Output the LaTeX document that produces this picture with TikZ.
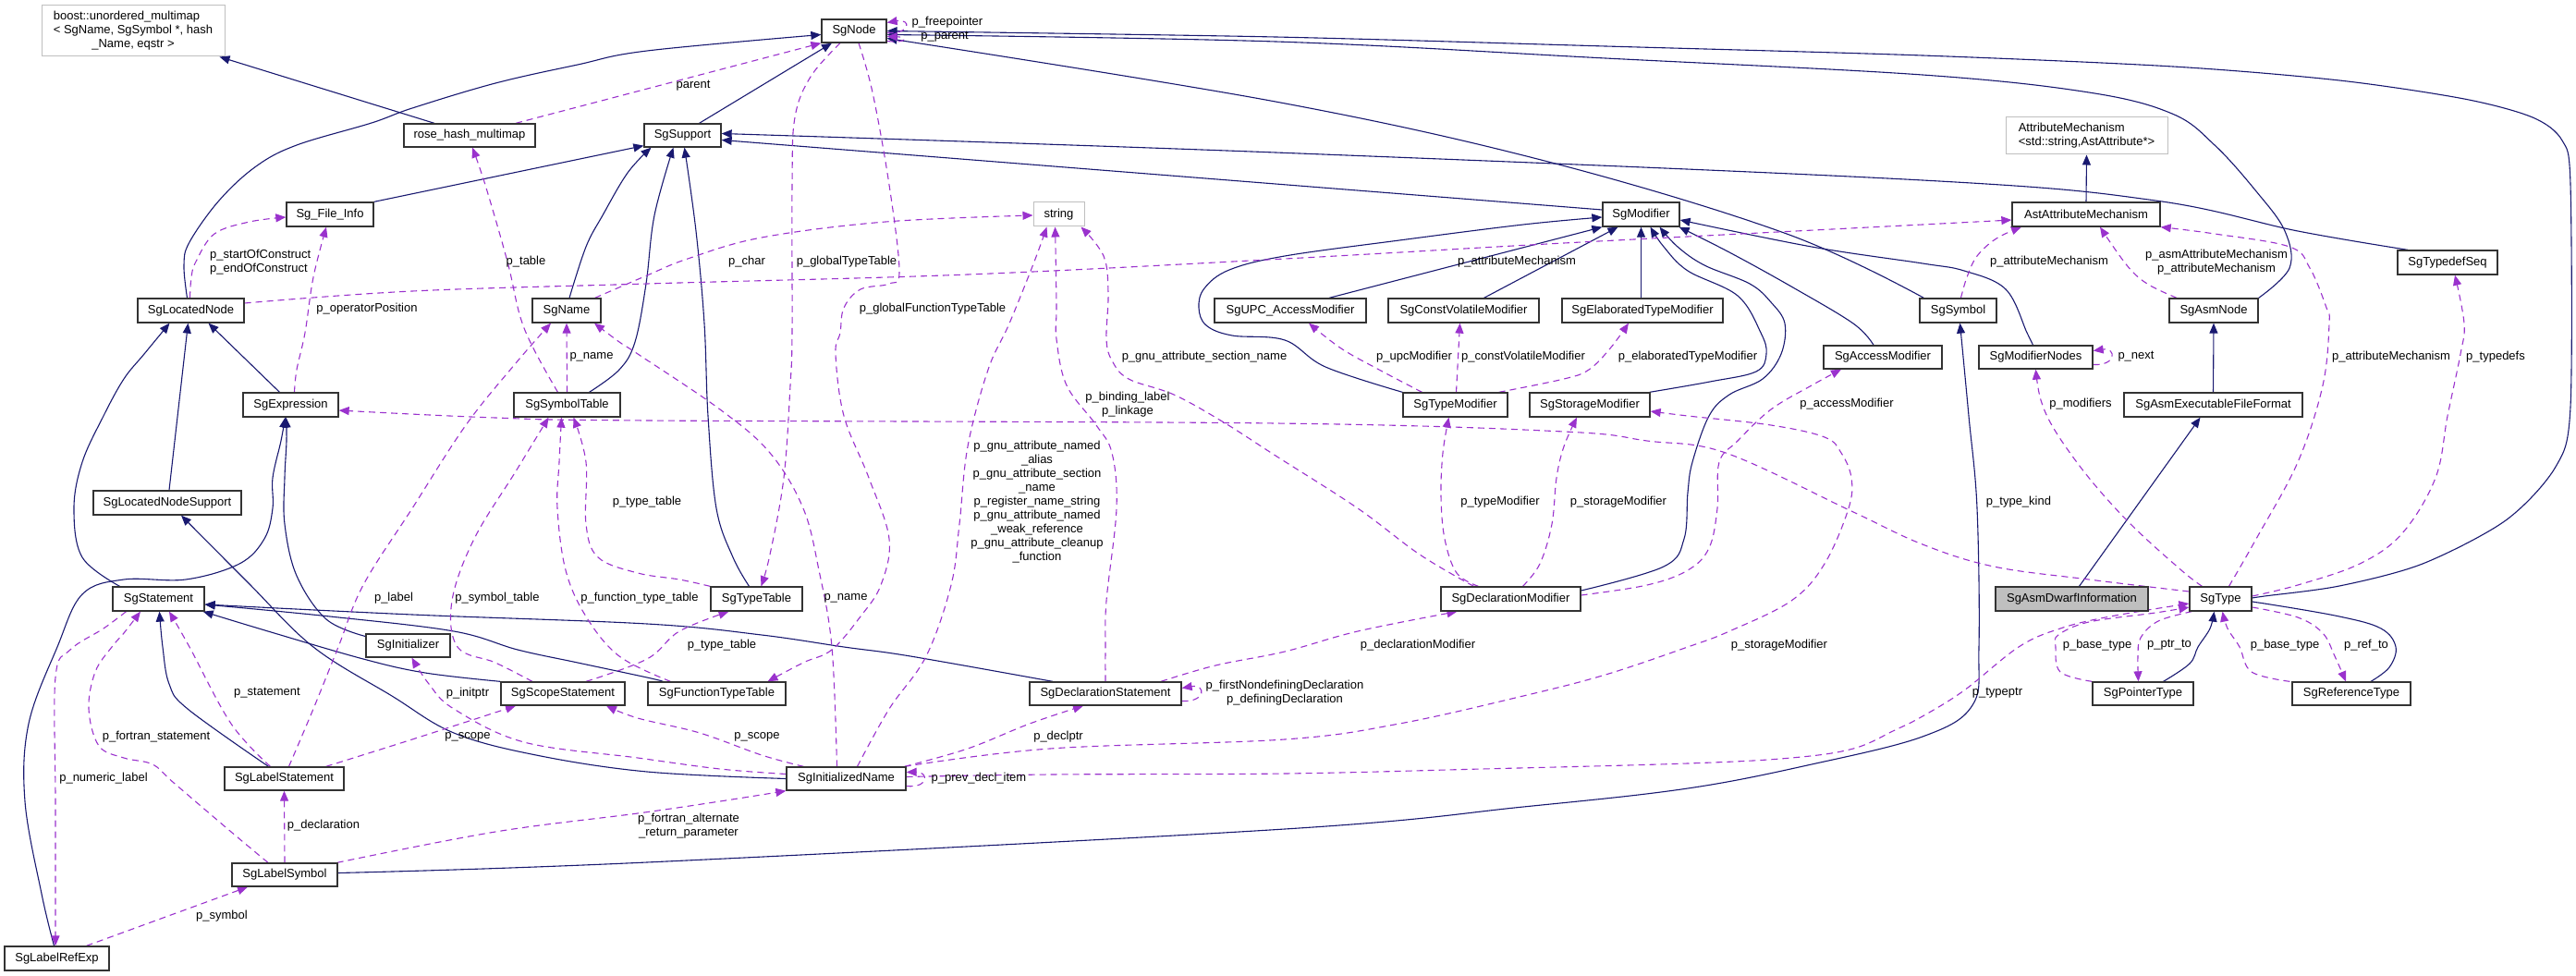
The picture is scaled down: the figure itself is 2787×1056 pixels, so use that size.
\documentclass[tikz,border=0pt]{standalone}
\usepackage{fontspec}
\setmainfont{Liberation Sans}
\usetikzlibrary{arrows.meta}
\definecolor{inhc}{RGB}{25,25,112}
\definecolor{depc}{RGB}{154,50,205}
\definecolor{gbord}{RGB}{191,191,191}
\pgfdeclarelayer{edges}
\pgfsetlayers{edges,main}
\begin{document}
\begin{tikzpicture}[x=1pt,y=-1pt,
  every node/.style={font=\fontsize{13}{15}\selectfont},
  box/.style={draw=black!80, line width=1.3pt, fill=white, inner sep=0pt, minimum height=25pt},
  gbox/.style={box, draw=gbord, line width=1pt},
  inh/.style={draw=inhc, line width=1.1pt, -{Triangle[length=11pt,width=9pt]}},
  dep/.style={draw=depc, line width=1.1pt, dash pattern=on 7pt off 5pt, -{Triangle[length=11pt,width=9pt]}},
  lbl/.style={inner sep=0pt, align=center},
  sm/.style={smooth, tension=0.6},
]
\useasboundingbox (0,0) rectangle (2787,1056);
% ---------------- nodes ----------------
\node[gbox, minimum width=198pt, minimum height=55pt, align=center] (boost) at (144,33.5) {\rlap{boost::unordered\_multimap}\phantom{< SgName, SgSymbol *, hash}\\< SgName, SgSymbol *, hash\\\_Name, eqstr >};
\node[box, minimum width=142pt] (rose) at (508,146.5) {rose\_hash\_multimap};
\node[box, minimum width=70pt] (sgnode) at (924,33.5) {SgNode};
\node[box, minimum width=83pt] (support) at (738.5,146.5) {SgSupport};
\node[box, minimum width=94pt, minimum height=26pt] (fileinfo) at (357,232) {Sg\_File\_Info};
\node[gbox, minimum width=55pt, minimum height=26pt] (string) at (1145.5,232) {string};
\node[box, minimum width=83pt, minimum height=26pt] (modifier) at (1775.5,232) {SgModifier};
\node[gbox, minimum width=175pt, minimum height=40pt, align=left] (attrmech) at (2257.5,147) {AttributeMechanism\\<std::string,AstAttribute*>};
\node[box, minimum width=160pt, minimum height=26pt] (astattr) at (2257,232) {AstAttributeMechanism};
\node[box, minimum width=115pt, minimum height=26pt] (lnode) at (206.5,336) {SgLocatedNode};
\node[box, minimum width=74pt, minimum height=26pt] (sgname) at (613,336) {SgName};
\node[box, minimum width=164pt, minimum height=26pt] (upc) at (1396,336) {SgUPC\_AccessModifier};
\node[box, minimum width=163pt, minimum height=26pt] (cv) at (1583.5,336) {SgConstVolatileModifier};
\node[box, minimum width=174pt, minimum height=26pt] (et) at (1777,336) {SgElaboratedTypeModifier};
\node[box, minimum width=83pt, minimum height=26pt] (sgsymbol) at (2118.5,336) {SgSymbol};
\node[box, minimum width=96pt, minimum height=26pt] (asmnode) at (2395,336) {SgAsmNode};
\node[box, minimum width=108pt, minimum height=26pt] (typedefseq) at (2648,284) {SgTypedefSeq};
\node[box, minimum width=128pt] (access) at (2037,386.5) {SgAccessModifier};
\node[box, minimum width=123pt] (modnodes) at (2202.5,386.5) {SgModifierNodes};
\node[box, minimum width=103pt, minimum height=26pt] (expr) at (314.5,438) {SgExpression};
\node[box, minimum width=115pt, minimum height=26pt] (symtab) at (613.5,438) {SgSymbolTable};
\node[box, minimum width=113pt, minimum height=26pt] (typemod) at (1574.5,438) {SgTypeModifier};
\node[box, minimum width=130pt, minimum height=26pt] (storage) at (1720,438) {SgStorageModifier};
\node[box, minimum width=193pt, minimum height=26pt] (asmexec) at (2394.5,438) {SgAsmExecutableFileFormat};
\node[box, minimum width=160pt, minimum height=26pt] (lns) at (181,544) {SgLocatedNodeSupport};
\node[box, minimum width=99pt, minimum height=26pt] (stmt) at (171.5,648) {SgStatement};
\node[box, minimum width=99pt, minimum height=26pt] (typetable) at (818.5,648) {SgTypeTable};
\node[box, minimum width=151pt, minimum height=26pt] (declmod) at (1634.5,648) {SgDeclarationModifier};
\node[box, minimum width=165pt, minimum height=26pt, fill=gbord] (dwarf) at (2241.5,648) {SgAsmDwarfInformation};
\node[box, minimum width=67pt, minimum height=26pt] (sgtype) at (2402.5,648) {SgType};
\node[box, minimum width=91pt] (init) at (441.5,698.5) {SgInitializer};
\node[box, minimum width=134pt] (scope) at (609,750.5) {SgScopeStatement};
\node[box, minimum width=149pt] (ftt) at (775.5,750.5) {SgFunctionTypeTable};
\node[box, minimum width=164pt] (declstmt) at (1196,750.5) {SgDeclarationStatement};
\node[box, minimum width=109pt] (ptrtype) at (2318.5,750.5) {SgPointerType};
\node[box, minimum width=128pt] (reftype) at (2544,750.5) {SgReferenceType};
\node[box, minimum width=129pt] (labelstmt) at (307.5,842.5) {SgLabelStatement};
\node[box, minimum width=129pt] (initname) at (915.5,842.5) {SgInitializedName};
\node[box, minimum width=114pt] (labelsym) at (308,946.5) {SgLabelSymbol};
\node[box, minimum width=113pt, minimum height=26pt] (labelref) at (61.5,1037) {SgLabelRefExp};
% ---------------- edges ----------------
\begin{pgfonlayer}{edges}
% inheritance
\draw[inh] ([xshift=-38pt]rose.north) -- ([xshift=-6pt]boost.south east);
\draw[inh] plot[sm] coordinates {([xshift=-4pt]lnode.north) (199,287) (205,262) (237,217) (277,180) (321,157) (402,133) (446,117) (536,90) (625,70) (700,55) ([yshift=-4pt]sgnode.west)};
\draw[inh] ([xshift=18pt]support.north) -- ([xshift=-24pt]sgnode.south);
\draw[inh] (fileinfo.north east) -- ([yshift=2pt]support.south west);
\draw[inh] plot[sm] coordinates {([xshift=3pt]sgname.north) (634,267) (652,233) (679,187) ([xshift=-34pt]support.south)};
\draw[inh] plot[sm] coordinates {([xshift=24pt]symtab.north) (670,400) (687,370) (699,307) (708,233) ([xshift=-10pt]support.south)};
\draw[inh] plot[sm] coordinates {([xshift=-8pt]typetable.north) (793,603) (775,550) (766,450) (762,350) (753,250) ([xshift=2pt]support.south)};
\draw[inh] ([yshift=5pt]modifier.west) -- ([yshift=-5pt]support.east);
\draw[inh] plot[sm] coordinates {([xshift=-43pt]typedefseq.north) (2486,250) (2332,217) (2080,195) (1380,165) ([yshift=2pt]support.east)};
\draw[inh] plot[smooth, tension=0.5] coordinates {([yshift=1pt]sgtype.east) (2450,645) (2531,634) (2621,610) (2711,563) (2765,505) (2781,440) (2781,200) (2772,152) (2740,127) (2666,107) (2531,87) (2351,72) (2080,60) (1737,50) (1380,40) (sgnode.east)};
\draw[inh] plot[sm] coordinates {(asmnode.north east) (2477,290) (2472,250) (2441,207) (2396,157) (2350,123) (2260,100) (2080,81) (1737,63) (1380,45) ([yshift=-4pt]sgnode.east)};
\draw[inh] plot[sm] coordinates {([xshift=5pt]sgsymbol.north west) (1933,253) (1675,175) (1380,110) ([yshift=-8pt]sgnode.east)};
\draw[inh] ([xshift=42pt]upc.north) -- (modifier.south west);
\draw[inh] ([xshift=22pt]cv.north) -- ([xshift=-25pt]modifier.south);
\draw[inh] ([xshift=-1.5pt]et.north) -- (modifier.south);
\draw[inh] plot[sm] coordinates {(typemod.north west) (1434,397) (1390,368) (1333,363) (1305,352) (1297,333) (1303,312) (1330,292) (1390,277) (1514,260) (1648,243) ([yshift=-3pt]modifier.west)};
\draw[inh] plot[sm] coordinates {([xshift=-1pt]storage.north east) (1850,413) (1900,402) (1911,383) (1905,360) (1880,320) (1826,293) (1800,267) ([xshift=10pt]modifier.south)};
\draw[inh] plot[sm] coordinates {([yshift=9pt]declmod.east) (1800,613) (1822,583) (1826,533) (1831,500) (1849,450) (1871,427) (1907,410) (1927,383) (1931,350) (1916,327) (1893,307) (1844,287) (1815,267) ([xshift=20pt]modifier.south)};
\draw[inh] plot[sm] coordinates {([xshift=-10pt]access.north) (2005,350) (1938,310) (1871,273) ([xshift=-1pt]modifier.south east)};
\draw[inh] plot[sm] coordinates {([xshift=-3pt]modnodes.north) (2193,360) (2170,313) (2125,293) (2080,285) (1960,267) ([yshift=-6pt]modifier.east)};
\draw[inh] (astattr.north) -- (attrmech.south);
\draw[inh] plot[sm] coordinates {([xshift=-42pt]stmt.north) (89,603) (80,550) (89,500) (112,450) (134,410) (156,383) ([xshift=-23pt]lnode.south)};
\draw[inh] ([xshift=2pt]lns.north) -- ([xshift=-3pt]lnode.south);
\draw[inh] ([xshift=-12pt]expr.north) -- ([xshift=19pt]lnode.south);
\draw[inh] plot[sm] coordinates {([xshift=-3pt]labelref.north) (45,967) (27,867) (31,783) (62,700) (89,643) (134,627) (201,627) (259,610) (286,583) (295,550) (295,517) (304,477) ([xshift=-6pt]expr.south)};
\draw[inh] plot[sm] coordinates {([yshift=10pt]init.west) (353,670) (321,623) (308,567) (308,517) (310,477) ([xshift=-5pt]expr.south)};
\draw[inh] plot[sm] coordinates {(initname.west) (700,835) (580,817) (491,793) (424,753) (339,700) (268,630) ([xshift=15pt]lns.south)};
\draw[inh] plot[sm] coordinates {([xshift=-57pt]declstmt.north) (985,710) (913,700) (824,687) (700,675) (446,665) ([yshift=-6pt]stmt.east)};
\draw[inh] plot[sm] coordinates {([xshift=-58pt]ftt.north) (700,733) (625,717) (560,703) (491,683) (357,667) ([yshift=-6pt]stmt.east)};
\draw[inh] plot[sm] coordinates {(scope.north west) (460,728) (393,713) (290,683) ([xshift=-2pt]stmt.south east)};
\draw[inh] plot[sm] coordinates {([xshift=-17pt]labelstmt.north) (203,767) (183,740) (176,700) ([xshift=1pt]stmt.south)};
\draw[inh] plot[sm] coordinates {([yshift=2pt]labelsym.east) (700,933) (1390,897) (1648,873) (1826,853) (1960,827) (2080,797) (2134,763) (2141,700) (2139,550) (2130,450) ([xshift=2pt]sgsymbol.south)};
\draw[inh] (asmexec.north) -- (asmnode.south);
\draw[inh] ([xshift=8pt]dwarf.north) -- ([xshift=-14pt]asmexec.south);
\draw[inh] plot[sm] coordinates {([xshift=22pt]ptrtype.north) (2369,718) (2378,700) (2391,680) ([xshift=-7pt]sgtype.south)};
\draw[inh] plot[sm] coordinates {([xshift=21pt]reftype.north) (2585,722) (2592,700) (2576,680) (2531,667) (2450,653) ([yshift=-4pt]sgtype.east)};
% usage (dashed)
\draw[dep] ([xshift=50pt]rose.north) -- (sgnode.south west);
\draw[dep] ([yshift=-2pt]sgnode.east) .. controls (986,37) and (986,20) .. ([yshift=9pt]sgnode.east);
\draw[dep] ([yshift=-11pt]sgnode.east) .. controls (982,47) and (982,40) .. ([yshift=-6pt]sgnode.east);
\draw[dep] plot[sm] coordinates {([xshift=-1pt]lnode.north) (207,300) (212,283) (232,253) (270,240) ([yshift=-3pt]fileinfo.west)};
\draw[dep] plot[sm] coordinates {([xshift=4pt]expr.north) (321,400) (330,360) (339,300) ([xshift=-4pt]fileinfo.south)};
\draw[dep] plot[sm] coordinates {([xshift=-10pt]symtab.north) (567,355) (549,283) (525,200) ([xshift=3pt]rose.south)};
\draw[dep] plot[sm] coordinates {([xshift=-7pt]sgname.north east) (700,298) (744,280) (824,257) (958,240) ([yshift=-1pt]string.west)};
\draw[dep] plot[sm] coordinates {([yshift=8pt]lnode.east) (446,315) (700,307) (1047,297) (1390,280) (1692,263) (2080,243) ([yshift=-6pt]astattr.west)};
\draw[dep] plot[sm] coordinates {([xshift=3pt]sgsymbol.north) (2128,300) (2139,277) (2160,258) ([xshift=-70pt]astattr.south)};
\draw[dep] plot[sm] coordinates {([xshift=-40pt]asmnode.north) (2323,307) (2301,287) ([xshift=15pt]astattr.south)};
\draw[dep] plot[sm] coordinates {([xshift=9pt]sgtype.north) (2441,583) (2486,500) (2513,417) (2520,350) (2517,333) (2499,290) (2477,267) (2396,253) (astattr.south east)};
\draw[dep] plot[sm] coordinates {([yshift=3pt]sgtype.east) (2486,633) (2553,610) (2599,577) (2635,517) (2648,450) (2662,383) (2666,350) ([xshift=8pt]typedefseq.south)};
\draw[dep] plot[sm] coordinates {([xshift=-20pt]sgtype.north) (2360,617) (2305,567) (2260,517) (2224,467) (2208,433) (modnodes.south)};
\draw[dep] ([yshift=-8pt]modnodes.east) .. controls (2290,396) and (2290,376) .. ([yshift=7pt]modnodes.east);
\draw[dep] plot[sm] coordinates {([yshift=8pt]sgtype.west) (2260,627) (2157,613) (2080,589) (2003,553) (1867,490) (1782,477) (1692,467) (1380,458) (700,455) (536,452) ([yshift=-6pt]expr.east)};
\draw[dep] plot[sm] coordinates {([xshift=-36pt]typemod.north) (1492,400) (1451,377) ([xshift=20pt]upc.south)};
\draw[dep] ([xshift=1pt]typemod.north) -- ([xshift=-4pt]cv.south);
\draw[dep] plot[sm] coordinates {([xshift=-10pt]typemod.north east) (1692,410) (1719,400) (1742,377) ([xshift=-15pt]et.south)};
\draw[dep] plot[sm] coordinates {([xshift=-35pt]declmod.north) (1576,620) (1563,583) (1559,537) (1561,490) ([xshift=-7pt]typemod.south)};
\draw[dep] plot[sm] coordinates {([xshift=13pt]declmod.north) (1666,610) (1679,567) (1684,517) (1692,483) ([xshift=-14pt]storage.south)};
\draw[dep] plot[sm] coordinates {([yshift=4pt]declmod.east) (1782,633) (1826,617) (1849,593) (1858,550) (1860,500) (1880,477) (1916,443) (1960,417) ([xshift=-45pt]access.south)};
\draw[dep] plot[sm] coordinates {([xshift=-2pt]initname.north east) (1136,810) (1390,800) (1514,783) (1648,753) (1737,730) (1826,700) (1871,683) (1938,650) (1974,610) (2000,550) (2003,517) (1992,490) (1974,473) (1916,460) (1826,450) ([yshift=-7pt]storage.east)};
\draw[dep] plot[sm] coordinates {([xshift=60pt]declstmt.north) (1315,720) (1390,705) (1469,683) ([xshift=-58pt]declmod.south)};
\draw[dep] ([yshift=-8pt]declstmt.east) .. controls (1305,760) and (1305,740) .. ([yshift=6pt]declstmt.east);
\draw[dep] plot[sm] coordinates {([xshift=-2pt]initname.north east) (1047,810) (1114,783) ([xshift=-24pt]declstmt.south)};
\draw[dep] plot[sm] coordinates {([xshift=-46pt]initname.north) (824,817) (757,793) (690,777) ([xshift=47pt]scope.south)};
\draw[dep] plot[sm] coordinates {([yshift=5pt]initname.west) (779,832) (690,820) (567,803) (491,767) (464,740) ([xshift=4pt]init.south)};
\draw[dep] plot[sm] coordinates {([xshift=-10pt]initname.north) (900,700) (886,617) (869,550) (833,490) (779,443) (690,383) (670,370) ([xshift=30pt]sgname.south)};
\draw[dep] plot[sm] coordinates {([xshift=12pt]initname.north) (962,767) (1002,710) (1029,633) (1038,567) (1047,483) (1069,400) (1092,350) (1119,283) ([xshift=-13pt]string.south)};
\draw[dep] plot[sm] coordinates {(declstmt.north) (1196,700) (1197,650) (1208,550) (1203,490) (1186,460) (1154,417) (1143,367) (1143,333) (1142,267) ([xshift=-4pt]string.south)};
\draw[dep] plot[sm] coordinates {([xshift=-40pt]declmod.north) (1536,600) (1469,550) (1380,493) (1324,457) (1270,427) (1221,410) (1203,390) (1197,367) (1199,317) (1194,277) ([xshift=-4pt]string.south east)};
\draw[dep] plot[sm] coordinates {([xshift=-33pt]scope.north) (536,717) (495,700) (489,650) (513,583) (558,510) ([xshift=-20pt]symtab.south)};
\draw[dep] plot[sm] coordinates {([xshift=-50pt]ftt.north) (670,710) (634,667) (612,617) (603,550) (605,500) ([xshift=-6pt]symtab.south)};
\draw[dep] plot[sm] coordinates {(typetable.north west) (735,627) (690,620) (647,603) (634,567) (634,500) ([xshift=7pt]symtab.south)};
\draw[dep] plot[sm] coordinates {([xshift=25pt]scope.north) (700,713) (735,683) ([xshift=-30pt]typetable.south)};
\draw[dep] plot[sm] coordinates {([xshift=-15pt]sgnode.south) (877,83) (860,127) (857,200) (857,360) (855,417) (848,517) (833,600) ([xshift=5pt]typetable.north)};
\draw[dep] plot[sm] coordinates {([xshift=5pt]sgnode.south) (944,100) (962,200) (973,293) (962,307) (931,313) (913,333) (909,360) (904,383) (913,450) (940,517) (962,583) (953,633) (931,667) (900,703) (869,717) ([xshift=55pt]ftt.north)};
\draw[dep] (symtab.north) -- (sgname.south);
\draw[dep] plot[sm] coordinates {([xshift=5pt]labelstmt.north) (339,767) (366,700) (393,633) (446,550) (504,460) (558,393) ([xshift=-17pt]sgname.south)};
\draw[dep] plot[sm] coordinates {([xshift=-15pt]labelstmt.north) (250,783) (205,700) ([xshift=11.5pt]stmt.south)};
\draw[dep] plot[sm] coordinates {([xshift=-20pt]labelstmt.north east) (446,800) ([xshift=-51pt]scope.south)};
\draw[dep] (labelsym.north) -- (labelstmt.south);
\draw[dep] plot[sm] coordinates {([xshift=-18pt]labelsym.north) (250,900) (188,847) (165,827) (134,820) (107,807) (96,767) (103,727) (121,700) (134,685) ([xshift=-19.5pt]stmt.south)};
\draw[dep] plot[sm] coordinates {([xshift=-1pt]labelsym.north east) (536,900) (690,880) (779,867) (initname.south west)};
\draw[dep] plot[sm] coordinates {([xshift=-35pt]stmt.south) (112,680) (76,703) (60,733) (60,867) ([xshift=-1.5pt]labelref.north)};
\draw[dep] ([xshift=32pt]labelref.north) -- ([xshift=-40pt]labelsym.south);
\draw[dep] ([yshift=-8pt]initname.east) .. controls (1005,853) and (1005,835) .. ([yshift=7pt]initname.east);
\draw[dep] plot[sm] coordinates {([yshift=2pt]initname.east) (1136,838) (1390,837) (1603,832) (1826,826) (1938,820) (2005,810) (2050,790) (2080,775) (2125,747) (2184,700) (2229,680) (2283,667) ([yshift=-5pt]sgtype.west)};
\draw[dep] plot[sm] coordinates {(ptrtype.north west) (2229,727) (2224,700) (2227,687) (2260,673) (2332,663) ([yshift=-9pt]sgtype.west)};
\draw[dep] plot[sm] coordinates {([xshift=3pt]sgtype.south west) (2335,672) (2316,690) (2313,710) ([xshift=-5pt]ptrtype.north)};
\draw[dep] plot[sm] coordinates {([xshift=-2pt]reftype.north west) (2436,727) (2423,700) (2410,680) ([xshift=2pt]sgtype.south)};
\draw[dep] plot[sm] coordinates {([yshift=-9pt]sgtype.east) (2486,668) (2513,685) (2526,710) ([xshift=-6pt]reftype.north)};
\end{pgfonlayer}
% ---------------- labels ----------------
\node[lbl] (l1) at (750,93) {parent};
\node[lbl] (l2) at (1025,24) {p\_freepointer};
\node[lbl] (l3) at (1022,40) {p\_parent};
\node[lbl, anchor=west, align=left] (l4) at (227,283.5) {p\_startOfConstruct\\p\_endOfConstruct};
\node[lbl] (l5) at (397,334) {p\_operatorPosition};
\node[lbl] (l6) at (569,283) {p\_table};
\node[lbl] (l7) at (808,283) {p\_char};
\node[lbl] (l8) at (916,283) {p\_globalTypeTable};
\node[lbl] (l9) at (1009,334) {p\_globalFunctionTypeTable};
\node[lbl] (l10) at (1641,283) {p\_attributeMechanism};
\node[lbl] (l11) at (2217,283) {p\_attributeMechanism};
\node[lbl] (l12) at (2398,283.5) {p\_asmAttributeMechanism\\p\_attributeMechanism};
\node[lbl] (l13) at (2587,386) {p\_attributeMechanism};
\node[lbl] (l14) at (2700,386) {p\_typedefs};
\node[lbl] (l15) at (2251,437) {p\_modifiers};
\node[lbl] (l16) at (2311,386) {p\_next};
\node[lbl] (l17) at (2184,543) {p\_type\_kind};
\node[lbl] (l18) at (1530,386) {p\_upcModifier};
\node[lbl] (l19) at (1648,386) {p\_constVolatileModifier};
\node[lbl] (l20) at (1826,386) {p\_elaboratedTypeModifier};
\node[lbl] (l21) at (1303,386) {p\_gnu\_attribute\_section\_name};
\node[lbl] (l22) at (1220,437.5) {p\_binding\_label\\p\_linkage};
\node[lbl] (l23) at (1122,543.5) {p\_gnu\_attribute\_named\\\_alias\\p\_gnu\_attribute\_section\\\_name\\p\_register\_name\_string\\p\_gnu\_attribute\_named\\\_weak\_reference\\p\_gnu\_attribute\_cleanup\\\_function};
\node[lbl] (l24) at (1998,437) {p\_accessModifier};
\node[lbl] (l25) at (1623,543) {p\_typeModifier};
\node[lbl] (l26) at (1751,543) {p\_storageModifier};
\node[lbl] (l27) at (1925,698) {p\_storageModifier};
\node[lbl] (l28) at (1534,698) {p\_declarationModifier};
\node[lbl] (l29) at (1390,750) {p\_firstNondefiningDeclaration\\p\_definingDeclaration};
\node[lbl] (l30) at (1145,797) {p\_declptr};
\node[lbl] (l31) at (1059,842) {p\_prev\_decl\_item};
\node[lbl] (l32) at (2161,750) {p\_typeptr};
\node[lbl] (l33) at (2269,698) {p\_base\_type};
\node[lbl] (l34) at (2347,698) {p\_ptr\_to};
\node[lbl] (l35) at (2472,698) {p\_base\_type};
\node[lbl] (l36) at (2560,698) {p\_ref\_to};
\node[lbl] (l37) at (640,386) {p\_name};
\node[lbl] (l38) at (915,647) {p\_name};
\node[lbl] (l39) at (426,647) {p\_label};
\node[lbl] (l40) at (538,647) {p\_symbol\_table};
\node[lbl] (l41) at (692,647) {p\_function\_type\_table};
\node[lbl] (l42) at (700,543) {p\_type\_table};
\node[lbl] (l43) at (781,698) {p\_type\_table};
\node[lbl] (l44) at (506,750) {p\_initptr};
\node[lbl] (l45) at (819,797) {p\_scope};
\node[lbl] (l46) at (506,797) {p\_scope};
\node[lbl] (l47) at (289,750) {p\_statement};
\node[lbl] (l48) at (169,797) {p\_fortran\_statement};
\node[lbl] (l49) at (112,842) {p\_numeric\_label};
\node[lbl] (l50) at (350,893) {p\_declaration};
\node[lbl] (l51) at (240,991) {p\_symbol};
\node[lbl] (l52) at (745,894) {p\_fortran\_alternate\\\_return\_parameter};
\end{tikzpicture}
\end{document}
